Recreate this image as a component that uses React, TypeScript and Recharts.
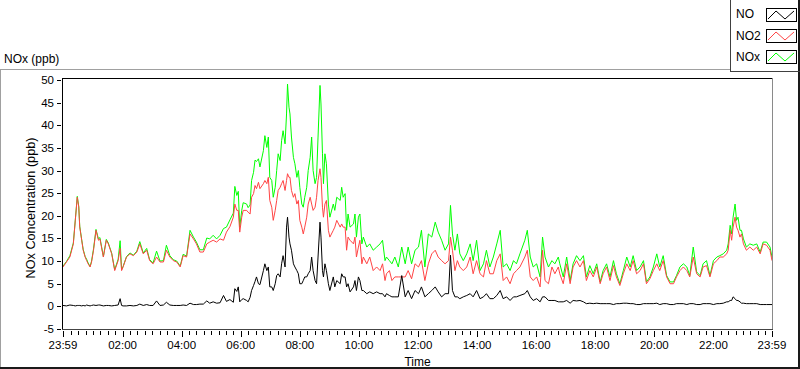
import React from 'react';
import { LineChart, Line, XAxis, YAxis } from 'recharts';

// minutes after the 23:59 start of the record
const minutes = [
  0, 7, 14, 21, 25, 29, 32, 34, 38, 41, 45, 48, 51, 55, 58, 62, 67, 72, 75, 82,
  88, 92, 99, 105, 112, 116, 119, 122, 129, 136, 143, 150, 156, 163, 170, 176, 183, 190, 197, 204,
  210, 217, 224, 231, 238, 244, 251, 258, 265, 271, 278, 285, 292, 298, 305, 312, 319, 326, 332, 339,
  346, 349, 353, 356, 359, 363, 366, 373, 376, 380, 383, 387, 390, 393, 397, 400,
  407, 410, 414, 417, 420, 424, 427, 431, 434, 437, 441, 444, 447, 451, 454, 456, 459, 461, 464, 468,
  471, 475, 478, 481, 485, 488, 491, 495, 498, 502, 505, 508, 512, 515, 518, 522, 524, 527, 529, 532,
  535, 539, 542, 549, 552, 556, 563, 566, 569, 573, 576, 579, 583, 590, 593, 596, 600, 603, 607, 610,
  617, 623, 630, 637,
  644, 649, 654, 657, 663, 668, 674, 681, 688, 695, 701, 708, 715, 722, 728, 735, 742, 749, 756, 762,
  769, 776, 783, 787, 791, 796, 801, 806, 813, 820, 827, 833, 840, 847, 854, 860, 867, 874, 881, 888,
  894, 901, 908, 915, 921, 928, 938, 943, 949, 955, 962, 969, 974, 979, 986, 993, 999, 1006,
  1009, 1016, 1023, 1030, 1036, 1043, 1050, 1057, 1063, 1070, 1077, 1084, 1091, 1097, 1104, 1111, 1118, 1124, 1131, 1138,
  1145, 1152, 1158, 1165, 1172, 1179, 1185, 1192, 1199, 1206, 1212, 1219, 1226, 1233, 1240, 1246, 1253, 1260, 1267, 1273,
  1280, 1287, 1294, 1300, 1307, 1314, 1321, 1328, 1334, 1341, 1348, 1351, 1355, 1358, 1361, 1365, 1368, 1371, 1375, 1378,
  1382, 1388, 1395, 1402, 1409, 1416, 1422, 1429, 1436, 1440,
];

const noPpb = [
  0.2, 0.1, 0.3, 0.2, 0.1, 0.2, 0.2, 0.2, 0.1, 0.2, 0.1, 0.3, 0.2, 0.1, 0.2, 0.3, 0.2, 0.3, 0.3, 0.1,
  0.2, 0.2, 0.1, 0.2, 0.3, 1.7, 0.2, 0.1, 0.1, 0.2, 0.1, 0.2, 0.5, 0.2, 0.4, 0.2, 0.2, 1.2, 0.2, 0.3,
  0.9, 0.3, 0.2, 0.2, 0.2, 0.3, 0.2, 0.7, 0.4, 0.4, 0.5, 0.5, 1.2, 0.7, 1.0, 0.7, 0.8, 2.4, 1.1, 1.5,
  0.9, 3.9, 3.3, 4.3, 1.0, 1.5, 1.7, 1.3, 1.0, 2.0, 3.5, 4.6, 5.5, 6.5, 5.0, 4.8,
  7.9, 9.4, 7.9, 8.7, 4.3, 4.3, 3.5, 5.0, 6.8, 7.2, 6.5, 9.4, 11.2, 8.7, 17.5, 19.7, 15.3, 13.8, 12.4, 9.4,
  8.7, 7.9, 7.2, 5.0, 5.0, 5.7, 6.5, 6.5, 7.2, 7.9, 10.9, 7.9, 5.7, 5.0, 10.9, 18.6, 15.3, 7.9, 6.5, 9.4,
  7.9, 5.0, 3.5, 6.5, 4.3, 5.7, 5.0, 7.2, 6.5, 6.5, 4.3, 5.0, 3.2, 4.3, 5.7, 3.5, 6.5, 5.7, 3.5, 3.5,
  2.8, 3.2, 2.8, 3.2,
  2.8, 2.8, 2.1, 2.8, 2.4, 2.1, 2.1, 2.1, 6.8, 2.1, 3.5, 1.7, 3.5, 2.8, 4.3, 2.1, 2.8, 3.5, 4.3, 3.2,
  2.1, 2.8, 2.8, 11.3, 3.5, 2.1, 2.1, 1.7, 2.1, 2.4, 2.8, 2.1, 3.5, 1.7, 2.1, 2.8, 1.7, 1.7, 2.4, 3.5,
  1.7, 2.1, 1.3, 2.1, 2.1, 2.4, 2.8, 3.5, 2.1, 1.3, 1.7, 1.0, 2.1, 2.1, 1.3, 1.3, 1.3, 1.0,
  1.0, 1.0, 1.3, 0.7, 1.3, 1.2, 1.3, 1.0, 0.6, 0.7, 0.6, 0.7, 0.6, 0.6, 0.6, 0.6, 0.4, 0.6, 0.6, 0.7,
  0.7, 0.6, 0.6, 0.4, 0.4, 0.6, 0.6, 0.6, 0.6, 0.7, 0.4, 0.6, 0.6, 0.4, 0.4, 0.6, 0.6, 0.6, 0.4, 0.6,
  0.6, 0.4, 0.4, 0.6, 0.6, 0.6, 0.4, 0.6, 0.6, 0.7, 1.0, 1.0, 1.3, 1.3, 2.1, 1.7, 1.3, 1.3, 1.0, 0.7,
  0.7, 0.6, 0.6, 0.6, 0.6, 0.4, 0.4, 0.4, 0.4, 0.4,
];

const no2Ppb = [
  8.7, 9.8, 10.9, 13.8, 19.0, 24.1, 21.9, 17.5, 14.6, 12.4, 10.9, 10.1, 9.4, 8.7, 9.8, 12.4, 16.8, 14.6, 14.9, 10.9,
  14.6, 13.8, 11.6, 7.9, 10.1, 12.8, 7.9, 8.7, 10.9, 11.6, 11.2, 12.0, 13.8, 11.6, 12.4, 10.1, 9.4, 10.9, 9.8, 9.8,
  12.4, 10.9, 10.1, 9.8, 8.7, 11.2, 10.9, 16.0, 14.9, 13.8, 12.0, 12.0, 13.8, 14.2, 14.6, 14.2, 14.9, 14.6, 16.4, 17.6,
  19.7, 22.6, 21.2, 21.2, 16.4, 19.7, 21.2, 21.2, 20.8, 20.4, 24.1, 24.9, 26.7, 26.0, 27.4, 26.0,
  27.1, 27.8, 27.1, 28.5, 23.4, 21.9, 19.0, 21.2, 23.4, 25.6, 26.3, 27.1, 27.8, 25.6, 27.8, 29.3, 28.5, 28.5, 25.6, 24.1,
  24.9, 22.6, 23.4, 19.0, 17.5, 16.0, 17.5, 19.7, 22.6, 24.1, 22.6, 21.2, 21.9, 24.1, 27.8, 30.4, 28.5, 21.9, 19.7, 22.6,
  23.4, 16.8, 15.3, 16.8, 17.5, 19.0, 17.5, 18.2, 17.5, 17.5, 12.4, 15.3, 14.6, 13.8, 15.3, 10.9, 13.1, 14.6, 9.4, 10.9,
  9.4, 10.9, 7.9, 8.7,
  7.9, 9.4, 5.7, 7.2, 7.9, 5.7, 6.5, 6.5, 6.5, 6.5, 7.9, 6.1, 9.4, 8.7, 10.1, 5.7, 9.4, 11.6, 12.4, 10.9,
  10.1, 9.4, 10.1, 15.3, 12.4, 7.9, 10.1, 8.7, 7.9, 8.7, 10.9, 7.2, 10.1, 7.2, 6.5, 10.1, 7.2, 7.2, 10.1, 11.6,
  5.7, 6.5, 5.0, 7.2, 7.9, 8.7, 10.9, 12.4, 6.5, 5.7, 6.5, 4.3, 12.4, 5.7, 5.0, 8.7, 7.2, 8.7,
  7.2, 5.0, 9.4, 5.0, 8.7, 10.1, 8.7, 10.1, 5.7, 7.9, 6.5, 8.7, 5.0, 7.2, 8.7, 5.7, 9.0, 6.5, 4.6, 7.2,
  9.4, 7.9, 10.1, 7.2, 7.9, 9.4, 5.0, 6.1, 7.9, 9.4, 7.9, 10.1, 6.5, 5.0, 5.0, 6.5, 7.9, 8.7, 7.9, 6.5,
  10.9, 7.2, 6.5, 8.7, 9.0, 6.5, 9.4, 10.1, 10.9, 10.9, 11.6, 12.4, 16.8, 14.6, 17.5, 19.7, 17.5, 16.8, 15.3, 16.0,
  13.8, 12.4, 13.1, 12.4, 13.1, 11.6, 13.8, 13.5, 12.4, 10.1,
];

const noxPpb = [
  8.9, 9.9, 11.2, 14.0, 19.1, 24.3, 22.1, 17.7, 14.7, 12.6, 11.0, 10.4, 9.6, 8.8, 10.0, 12.7, 17.0, 14.9, 15.2, 11.0,
  14.8, 14.0, 11.7, 8.1, 10.4, 14.5, 8.1, 8.8, 11.0, 11.8, 11.3, 12.2, 14.3, 11.8, 12.8, 10.3, 9.6, 12.2, 10.0, 10.1,
  13.5, 11.2, 10.3, 10.0, 8.9, 11.5, 11.1, 16.8, 15.3, 14.2, 12.5, 12.5, 15.1, 14.9, 15.7, 14.9, 15.7, 17.2, 17.5, 19.1,
  20.6, 26.5, 24.5, 25.4, 17.5, 21.2, 22.9, 22.6, 21.8, 22.4, 27.8, 29.6, 32.3, 32.0, 32.6, 30.8,
  34.4, 37.7, 35.1, 37.4, 28.5, 27.8, 24.1, 26.3, 30.0, 33.7, 32.2, 36.6, 38.8, 35.9, 42.5, 49.1, 44.0, 42.5, 37.4, 32.9,
  31.5, 28.5, 30.0, 26.3, 22.6, 21.9, 24.1, 26.3, 30.0, 32.9, 37.4, 30.0, 27.1, 28.5, 37.4, 48.8, 44.7, 33.7, 27.1, 33.7,
  31.5, 22.6, 19.7, 22.6, 21.2, 24.1, 23.4, 26.3, 24.1, 24.9, 16.8, 20.4, 17.5, 18.2, 20.4, 15.3, 19.7, 20.4, 13.8, 15.3,
  13.1, 13.8, 12.4, 13.1,
  13.8, 14.6, 10.1, 10.9, 10.1, 9.4, 10.9, 8.7, 13.1, 9.4, 13.1, 9.4, 12.4, 13.1, 16.8, 8.7, 16.0, 15.3, 18.6, 16.4,
  14.6, 12.4, 13.8, 22.3, 16.0, 12.4, 16.0, 11.6, 10.1, 11.6, 13.8, 10.1, 14.6, 7.9, 9.4, 12.4, 8.7, 10.9, 13.8, 16.8,
  8.7, 9.4, 7.9, 10.1, 9.4, 11.6, 14.6, 16.8, 10.9, 8.7, 9.4, 6.5, 15.3, 10.9, 8.7, 10.1, 9.4, 10.9,
  9.4, 6.5, 10.9, 5.7, 9.4, 11.2, 10.1, 11.2, 6.5, 9.0, 7.2, 9.4, 5.4, 7.9, 9.4, 6.5, 10.1, 7.2, 5.0, 7.9,
  10.9, 8.7, 11.2, 7.9, 8.7, 10.1, 5.4, 6.5, 8.7, 11.6, 8.7, 11.2, 6.8, 5.4, 5.4, 6.8, 8.7, 9.4, 8.7, 6.8,
  13.1, 7.6, 6.8, 9.4, 10.1, 6.8, 10.1, 10.9, 11.2, 11.6, 12.4, 13.8, 17.9, 16.0, 19.7, 22.6, 19.0, 19.7, 16.8, 16.8,
  14.9, 13.1, 13.8, 13.5, 13.8, 12.0, 14.2, 14.2, 13.1, 10.9,
];

const majorTicks = [0, 121, 241, 361, 481, 601, 721, 841, 961, 1081, 1201, 1321, 1440];
const timeLabels = ['23:59', '02:00', '04:00', '06:00', '08:00', '10:00', '12:00', '14:00', '16:00', '18:00', '20:00', '22:00', '23:59'];
const yTicks = [-5, 0, 5, 10, 15, 20, 25, 30, 35, 40, 45, 50];

// quarter-hour minor ticks between the labelled ones
const minorTicks = Array.from({ length: 95 }, (_, i) => 1 + 15 * (i + 1)).filter((t) => (t - 1) % 120 !== 0);
const allTicks = [...majorTicks, ...minorTicks].sort((a, b) => a - b);

const series = [
  { key: 'nox', name: 'NOx', color: '#00ff00' },
  { key: 'no2', name: 'NO2', color: '#ff4444' },
  { key: 'no', name: 'NO', color: '#000000' },
];

const data = minutes.map((t, i) => ({ t, no: noPpb[i], no2: no2Ppb[i], nox: noxPpb[i] }));

const FONT = '"Liberation Sans", Arial, sans-serif';

const TimeTick = (props: any) => {
  const { x, y, payload } = props;
  const idx = majorTicks.indexOf(payload.value);
  const px = Math.round(x) + 0.5;
  return (
    <g>
      <line x1={px} x2={px} y1={y + 2} y2={y + (idx >= 0 ? 8 : 6)} stroke="#000" strokeWidth={1} />
      {idx >= 0 && (
        <text x={x} y={y + 19.5} textAnchor="middle" fontSize={11.5} fontFamily={FONT} fill="#000">
          {timeLabels[idx]}
        </text>
      )}
    </g>
  );
};

const ValueTick = (props: any) => {
  const { x, y, payload } = props;
  const py = Math.round(y) + 0.5;
  return (
    <g>
      <line x1={x - 6} x2={x - 2} y1={py} y2={py} stroke="#000" strokeWidth={1} />
      <text x={x - 9} y={y + 4} textAnchor="end" fontSize={11.5} fontFamily={FONT} fill="#000">
        {payload.value}
      </text>
    </g>
  );
};

const box = (left: number, top: number, width: number, height: number, bg: string): React.CSSProperties => ({
  position: 'absolute', left, top, width, height, background: bg,
});

const textStyle: React.CSSProperties = {
  position: 'absolute', fontFamily: FONT, fontSize: 12, lineHeight: '14px', color: '#000', whiteSpace: 'nowrap',
};

export default function App() {
  const legendRows = [...series].reverse();
  return (
    <div style={{ position: 'absolute', left: 0, top: 0, width: 800, height: 369, background: '#fff', overflow: 'hidden' }}>
      <LineChart width={800} height={369} data={data} margin={{ top: 80, right: 28, bottom: 0, left: 0 }}>
        <XAxis
          dataKey="t"
          type="number"
          domain={[0, 1440]}
          ticks={allTicks}
          interval={0}
          height={40}
          tickSize={0}
          tickMargin={0}
          axisLine={false}
          tickLine={false}
          tick={TimeTick}
        />
        <YAxis
          type="number"
          domain={[-5, 50]}
          ticks={yTicks}
          interval={0}
          width={63}
          tickSize={0}
          tickMargin={0}
          axisLine={false}
          tickLine={false}
          tick={ValueTick}
        />
        {series.map((s) => (
          <Line
            key={s.key}
            dataKey={s.key}
            name={s.name}
            type="linear"
            stroke={s.color}
            strokeWidth={1}
            dot={false}
            activeDot={false}
            isAnimationActive={false}
          />
        ))}
      </LineChart>

      {/* outer panel frame */}
      <div style={box(0, 69, 730, 1, '#a0a0a0')} />
      <div style={box(0, 69, 1, 299, '#a0a0a0')} />
      <div style={box(0, 367, 800, 2, '#1a1a1a')} />
      <div style={box(798, 0, 2, 369, '#1a1a1a')} />

      {/* plot frame */}
      <div style={box(62, 78, 711, 1, '#000')} />
      <div style={box(62, 78, 1, 252, '#000')} />
      <div style={box(772, 78, 1, 252, '#8a8a8a')} />
      <div style={box(62, 329, 711, 1, '#444')} />

      <div style={{ ...textStyle, left: 4, top: 52 }}>NOx (ppb)</div>
      <div
        style={{ ...textStyle, fontSize: 12.7, left: 31, top: 208, transform: 'translate(-50%, -50%) rotate(-90deg)' }}
      >
        NOx Concentration (ppb)
      </div>
      <div style={{ ...textStyle, left: 317.5, top: 354.5, width: 200, textAlign: 'center' }}>Time</div>

      {/* legend */}
      <div style={box(730, 0, 1, 72, '#404040')} />
      <div style={box(730, 71, 70, 1, '#404040')} />
      {legendRows.map((s, i) => (
        <React.Fragment key={s.key}>
          <div style={{ ...textStyle, left: 736, top: 7 + i * 21.7 }}>{s.name}</div>
          <svg style={{ position: 'absolute', left: 766, top: 8 + i * 21 }} width={31} height={14}>
            <rect x={0.5} y={0.5} width={30} height={13} fill="#fff" stroke="#000" />
            <polyline points="2,11 10,3 19,11 28,3" fill="none" stroke={s.color} strokeWidth={1} />
          </svg>
        </React.Fragment>
      ))}
    </div>
  );
}
